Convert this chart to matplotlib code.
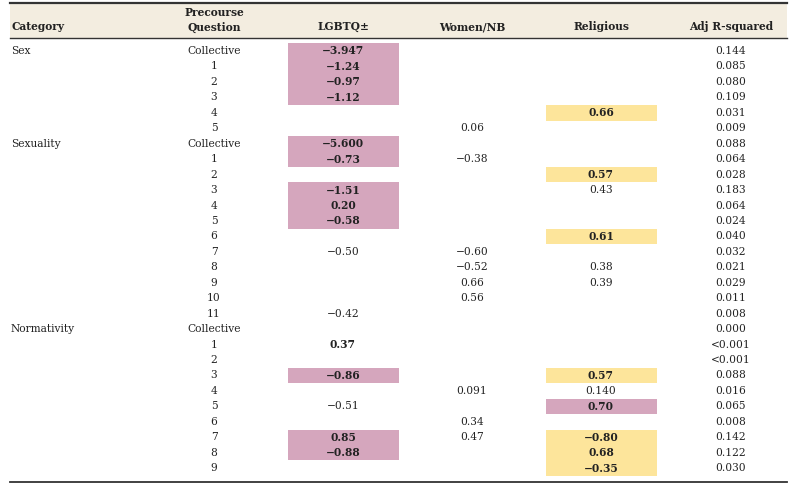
import matplotlib.pyplot as plt
from matplotlib.patches import Rectangle

plt.rcParams['font.family'] = ['DejaVu Serif']

# table content
categories = ['Sex', 'Sexuality', 'Normativity']
questions = [
    ['Collective', '1', '2', '3', '4', '5'],
    ['Collective', '1', '2', '3', '4', '5', '6', '7', '8', '9', '10', '11'],
    ['Collective', '1', '2', '3', '4', '5', '6', '7', '8', '9'],
]
lgbtq = ['−3.947', '−1.24', '−0.97', '−1.12', '', '',
         '−5.600', '−0.73', '', '−1.51', '0.20', '−0.58', '', '−0.50', '', '', '', '−0.42',
         '', '0.37', '', '−0.86', '', '−0.51', '', '0.85', '−0.88', '']
women = ['', '', '', '', '', '0.06',
         '', '−0.38', '', '', '', '', '', '−0.60', '−0.52', '0.66', '0.56', '',
         '', '', '', '', '0.091', '', '0.34', '0.47', '', '']
religious = ['', '', '', '', '0.66', '',
             '', '', '0.57', '0.43', '', '', '0.61', '', '0.38', '0.39', '', '',
             '', '', '', '0.57', '0.140', '0.70', '', '−0.80', '0.68', '−0.35']
adj_r2 = ['0.144', '0.085', '0.080', '0.109', '0.031', '0.009',
          '0.088', '0.064', '0.028', '0.183', '0.064', '0.024', '0.040', '0.032', '0.021', '0.029', '0.011', '0.008',
          '0.000', '<0.001', '<0.001', '0.088', '0.016', '0.065', '0.008', '0.142', '0.122', '0.030']
# highlight: 'p' = pink, 'y' = yellow, '' = none ; bold where highlighted (plus LGBTQ row 1 of Normativity)
lgbtq_hl = ['p', 'p', 'p', 'p', '', '',
            'p', 'p', '', 'p', 'p', 'p', '', '', '', '', '', '',
            '', '', '', 'p', '', '', '', 'p', 'p', '']
relig_hl = ['', '', '', '', 'y', '',
            '', '', 'y', '', '', '', 'y', '', '', '', '', '',
            '', '', '', 'y', '', 'p', '', 'y', 'y', 'y']
lgbtq_bold_extra = [19]

headers = ['LGBTQ±', 'Women/NB', 'Religious', 'Adj R-squared']

PINK = '#d5a6bd'
YELLOW = '#fde59b'
HEAD_BG = '#f3ede0'
TXT = '#222222'

fig = plt.figure(figsize=(8, 4.9), dpi=100)
ax = fig.add_axes([0, 0, 1, 1])
ax.set_xlim(0, 800)
ax.set_ylim(490, 0)
ax.axis('off')

x_left, x_right = 10, 787
col_x = {'cat': 11, 'q': 214, 'lg': 343, 'wo': 472, 're': 601, 'r2': 731}
box_w = 111
y0, dy = 51, 15.45
fs = 7.7

# header
ax.add_patch(Rectangle((x_left, 3), x_right - x_left, 35, color=HEAD_BG, lw=0))
ax.plot([x_left, x_right], [3.5, 3.5], color='#333333', lw=1.6)
ax.plot([x_left, x_right], [38, 38], color='#333333', lw=1.0)
ax.text(col_x['cat'], 27, 'Category', fontsize=fs, fontweight='bold', va='center', ha='left', color=TXT)
ax.text(col_x['q'], 12, 'Precourse', fontsize=fs, fontweight='bold', va='center', ha='center', color=TXT)
ax.text(col_x['q'], 27, 'Question', fontsize=fs, fontweight='bold', va='center', ha='center', color=TXT)
for key, h in zip(['lg', 'wo', 're', 'r2'], headers):
    ax.text(col_x[key], 27, h, fontsize=fs, fontweight='bold', va='center', ha='center', color=TXT)

# body
row = 0
for cat, qs in zip(categories, questions):
    for j, q in enumerate(qs):
        y = y0 + row * dy
        if j == 0:
            ax.text(col_x['cat'], y, cat, fontsize=fs, va='center', ha='left', color=TXT)
        ax.text(col_x['q'], y, q, fontsize=fs, va='center', ha='center', color=TXT)
        for key, vals, hl in [('lg', lgbtq, lgbtq_hl), ('re', religious, relig_hl)]:
            if hl[row]:
                c = PINK if hl[row] == 'p' else YELLOW
                ax.add_patch(Rectangle((col_x[key] - box_w / 2, y - dy / 2), box_w, dy, color=c, lw=0))
        lg_bold = lgbtq_hl[row] != '' or row in lgbtq_bold_extra
        ax.text(col_x['lg'], y, lgbtq[row], fontsize=fs, va='center', ha='center', color=TXT,
                fontweight='bold' if lg_bold else 'normal')
        ax.text(col_x['wo'], y, women[row], fontsize=fs, va='center', ha='center', color=TXT)
        ax.text(col_x['re'], y, religious[row], fontsize=fs, va='center', ha='center', color=TXT,
                fontweight='bold' if relig_hl[row] else 'normal')
        ax.text(col_x['r2'], y, adj_r2[row], fontsize=fs, va='center', ha='center', color=TXT)
        row += 1

ax.plot([x_left, x_right], [482, 482], color='#333333', lw=1.3)

fig.savefig('out.png', dpi=100)
